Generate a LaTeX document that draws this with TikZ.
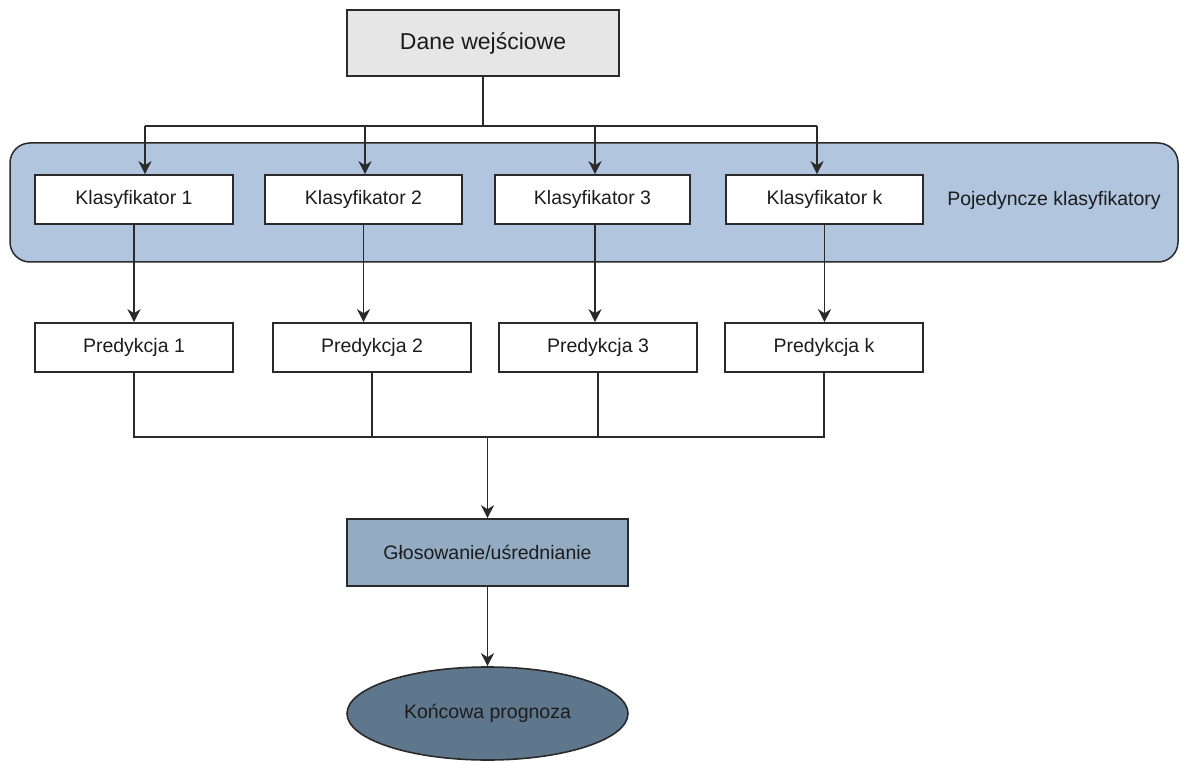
\documentclass[tikz,border=0pt]{standalone}
\usepackage{fontspec}
\setmainfont{Liberation Sans}
\usetikzlibrary{arrows.meta,shapes.geometric,calc}
\definecolor{groupfill}{HTML}{B1C5DE}
\definecolor{inputfill}{HTML}{E6E6E6}
\definecolor{votefill}{HTML}{93ACC3}
\definecolor{finalfill}{HTML}{5F778C}
\definecolor{ink}{HTML}{1C1C1C}
\definecolor{edge}{HTML}{2A2A2A}
\begin{document}
\begin{tikzpicture}[x=1pt,y=-1pt,
  every node/.style={text=ink,font=\fontsize{19.5}{22}\selectfont},
  box/.style={draw=edge,line width=1.6pt,rectangle,fill=white,inner sep=0pt,
    minimum width=198pt,minimum height=49pt},
  conn/.style={draw=edge,line width=1.5pt},
  arr/.style={conn,-{Stealth[length=13pt,width=13pt,inset=4pt]}}]
\useasboundingbox (0,0) rectangle (1181,762);

% background group of the single classifiers
\node[draw=edge,line width=1.5pt,fill=groupfill,rounded corners=20pt,
  minimum width=1168pt,minimum height=119pt,inner sep=0pt] (group) at (594,202.5) {};
\node (grouplabel) at (1054,200) {Pojedyncze klasyfikatory};

% input
\node[box,fill=inputfill,minimum width=272pt,minimum height=66pt,
  font=\fontsize{23}{26}\selectfont] (dane) at (483,43) {Dane wejściowe};

% classifiers
\node[box] (k1) at (134,199.5) {Klasyfikator 1};
\node[box,minimum width=197pt] (k2) at (363.5,199.5) {Klasyfikator 2};
\node[box,minimum width=195pt] (k3) at (592.5,199.5) {Klasyfikator 3};
\node[box,minimum width=197pt] (kk) at (824.5,199.5) {Klasyfikator k};

% predictions
\node[box] (p1) at (134,347.5) {Predykcja 1};
\node[box] (p2) at (372,347.5) {Predykcja 2};
\node[box] (p3) at (598,347.5) {Predykcja 3};
\node[box] (pk) at (824,347.5) {Predykcja k};

% aggregation and result
\node[box,fill=votefill,minimum width=281pt,minimum height=67pt] (vote) at (487.5,552.5) {Głosowanie/uśrednianie};
\node[draw=edge,line width=1.6pt,ellipse,fill=finalfill,inner sep=0pt,
  minimum width=281pt,minimum height=93pt] (final) at (487.5,713.5) {Końcowa prognoza};

% input fan-out bus
\coordinate (inbus) at (483,126);
\coordinate (in1) at (145,126);
\coordinate (in2) at (365,126);
\coordinate (in3) at (595,126);
\coordinate (ink) at (817,126);
\draw[conn] (dane.south) -- (inbus);
\draw[conn] (in1) -- (ink);
\draw[arr] (in1) -- (in1 |- k1.north);
\draw[arr] (in2) -- (in2 |- k2.north);
\draw[arr] (in3) -- (in3 |- k3.north);
\draw[arr] (ink) -- (ink |- kk.north);

% classifiers to predictions
\coordinate (k3out) at ($(k3.south)+(2.5,0)$);
\draw[arr] (k1.south) -- (k1.south |- p1.north);
\draw[arr] (k2.south) -- (k2.south |- p2.north);
\draw[arr] (k3out) -- (k3out |- p3.north);
\draw[arr] (kk.south) -- (kk.south |- pk.north);

% predictions merge bus
\coordinate (outbus) at (487.5,437);
\draw[conn] (p1.south) |- (outbus);
\draw[conn] (pk.south) |- (outbus);
\draw[conn] (p2.south) -- (p2.south |- outbus);
\draw[conn] (p3.south) -- (p3.south |- outbus);
\draw[arr] (outbus) -- (vote.north);
\draw[arr] (vote.south) -- (final.north);
\end{tikzpicture}
\end{document}
